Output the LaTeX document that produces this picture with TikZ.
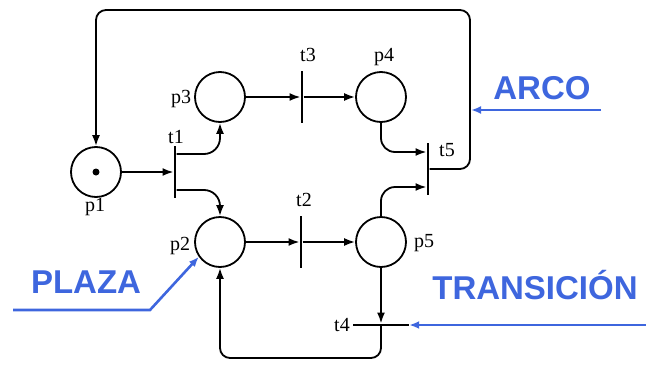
\documentclass[tikz,border=0pt]{standalone}
\usepackage{fontspec}
\setmainfont{Liberation Serif}
\newfontfamily\lblfont{Liberation Sans}
\usetikzlibrary{arrows.meta}
\definecolor{annblue}{RGB}{62,102,222}
\begin{document}
\begin{tikzpicture}[x=1pt,y=-1pt,
  place/.style={circle,draw,line width=1.8pt,minimum size=50pt,inner sep=0pt},
  vtrans/.style={fill=black,minimum width=2.6pt,minimum height=52pt,inner sep=0pt},
  htrans/.style={fill=black,minimum width=56pt,minimum height=2.6pt,inner sep=0pt},
  arc/.style={line width=1.8pt,-{Latex[length=11pt,width=8pt]}},
  lbl/.style={font=\fontsize{20}{20}\selectfont,inner sep=0pt},
  ann/.style={font=\lblfont\bfseries\fontsize{33}{33}\selectfont,text=annblue,inner sep=0pt},
  annarr/.style={annblue,line width=2.6pt,-{Latex[length=10pt,width=8pt]}}
]
\useasboundingbox (0,0) rectangle (646,370);
% places
\node[place] (p1) at (96,172) {};
\fill (p1.center) circle (3.5);
\node[place] (p3) at (220,97) {};
\node[place] (p4) at (381,97) {};
\node[place] (p2) at (220,242) {};
\node[place] (p5) at (381,242) {};
% transitions
\node[vtrans] (t1) at (175,172) {};
\node[vtrans] (t3) at (302,97) {};
\node[vtrans] (t2) at (301,242) {};
\node[vtrans] (t5) at (428,169) {};
\node[htrans] (t4) at (381,325) {};
% labels
\node[lbl] (lp1) at (95,207) {p1};
\node[lbl] (lp3) at (181,99) {p3};
\node[lbl] (lp4) at (384,57) {p4};
\node[lbl] (lp2) at (180,246) {p2};
\node[lbl] (lp5) at (424,243) {p5};
\node[lbl] (lt1) at (176,137) {t1};
\node[lbl] (lt3) at (308,55) {t3};
\node[lbl] (lt2) at (304,200) {t2};
\node[lbl] (lt5) at (447,150) {t5};
\node[lbl] (lt4) at (342,325) {t4};
% arcs
\draw[arc] (p1) -- (t1);
\draw[arc,rounded corners=16pt] ([yshift=18pt]t1.east) -| (p3.south);
\draw[arc,rounded corners=16pt] ([yshift=-18pt]t1.east) -| (p2.north);
\draw[arc] (p3) -- (t3);
\draw[arc] (t3) -- (p4);
\draw[arc] (p2) -- (t2);
\draw[arc] (t2) -- (p5);
\draw[arc,rounded corners=14pt] (p4.south) |- ([yshift=17pt]t5.west);
\draw[arc,rounded corners=14pt] (p5.north) |- ([yshift=-18pt]t5.west);
\coordinate (loopR) at (470,10);
\draw[arc,rounded corners=10pt] (t5.east) -| (loopR) -| (p1.north);
\draw[arc] (p5) -- (t4);
\coordinate (loopB) at (220,358);
\draw[arc,rounded corners=10pt] (t4.center) |- (loopB) -- (p2.south);
% annotations
\node[ann] (arco) at (542,88) {ARCO};
\coordinate (arcoS) at (601,110);
\coordinate (arcoT) at (471,110);
\draw[annarr] (arcoS) -- (arcoT);
\node[ann] (trans) at (535,285) {TRANSICIÓN};
\coordinate (transS) at (646,325);
\draw[annarr] (transS) -- (t4.east);
\node[ann] (plaza) at (86,282) {PLAZA};
\coordinate (plazaS) at (13,310);
\coordinate (plazaK) at (150,310);
\draw[annarr] (plazaS) -- (plazaK) -- (p2.215);
\end{tikzpicture}
\end{document}
